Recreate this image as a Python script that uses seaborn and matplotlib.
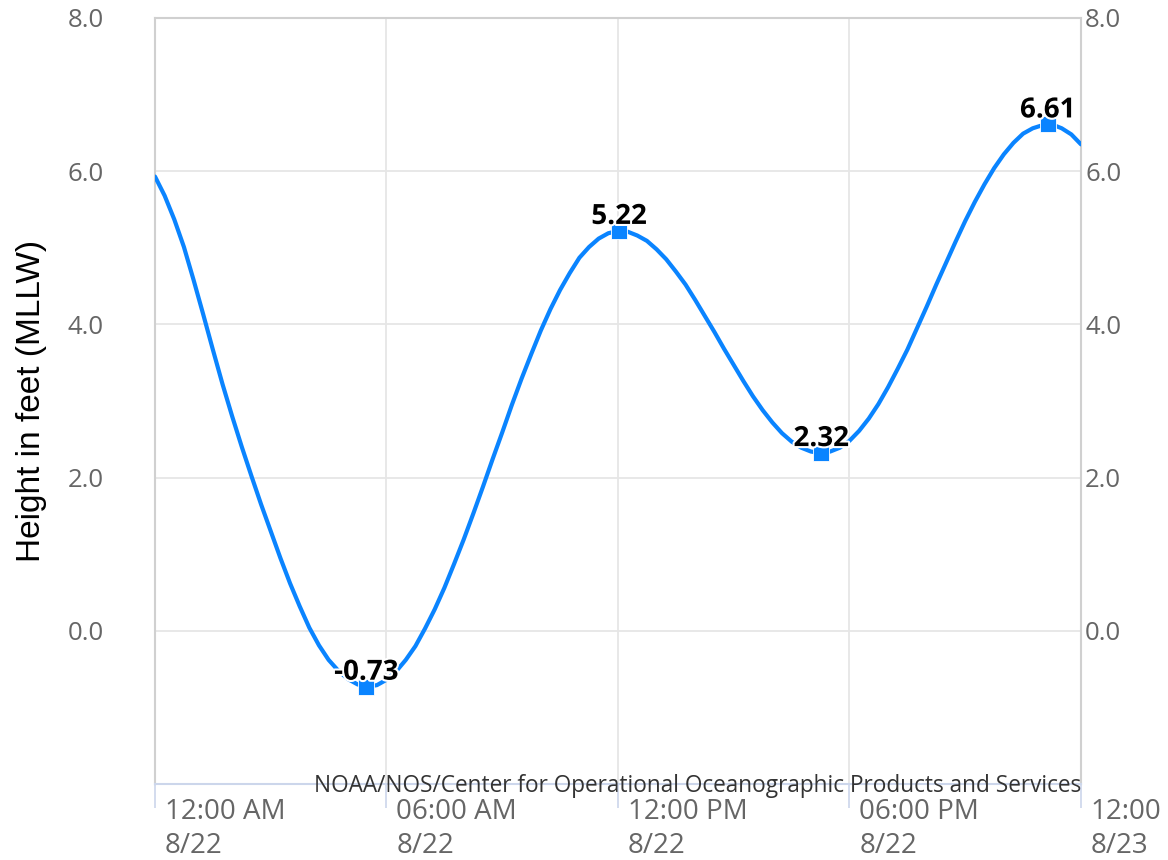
import numpy as np
import pandas as pd
import matplotlib.pyplot as plt
import matplotlib.patheffects as pe
import seaborn as sns

sns.set_theme(style="white")
plt.rcParams['font.family'] = ['Open Sans', 'DejaVu Sans']

# predicted tide every 15 minutes from 12:00 AM 8/22 (hours since midnight)
hours = np.arange(0, 24.25, 0.25)
height = [5.93, 5.68, 5.37, 5.01, 4.58, 4.13, 3.67, 3.22, 2.80, 2.40,
          2.02, 1.65, 1.30, 0.95, 0.62, 0.32, 0.04, -0.19, -0.38, -0.52,
          -0.63, -0.70, -0.73, -0.71, -0.64, -0.53, -0.38, -0.20, 0.03, 0.28,
          0.56, 0.87, 1.19, 1.53, 1.88, 2.24, 2.59, 2.95, 3.29, 3.61,
          3.92, 4.20, 4.45, 4.67, 4.87, 5.01, 5.12, 5.19, 5.22, 5.21,
          5.16, 5.09, 4.98, 4.85, 4.69, 4.52, 4.32, 4.11, 3.90, 3.68,
          3.47, 3.26, 3.06, 2.88, 2.72, 2.58, 2.47, 2.39, 2.34, 2.32,
          2.34, 2.39, 2.48, 2.61, 2.77, 2.96, 3.18, 3.42, 3.67, 3.95,
          4.23, 4.52, 4.80, 5.08, 5.35, 5.60, 5.83, 6.04, 6.22, 6.37,
          6.49, 6.56, 6.60, 6.61, 6.56, 6.48, 6.35]

# high / low tides
hilo_hours = [5.48, 12.03, 17.27, 23.14]
hilo_height = [-0.73, 5.22, 2.32, 6.61]

x_ticks = [0, 6, 12, 18, 24]
x_labels = ['12:00 AM\n8/22', '06:00 AM\n8/22', '12:00 PM\n8/22',
            '06:00 PM\n8/22', '12:00\n8/23']
y_ticks = [0.0, 2.0, 4.0, 6.0, 8.0]

blue = '#0a84ff'
gray_txt = '#666666'

tide = pd.DataFrame({'hour': hours, 'height': height})

fig = plt.figure(figsize=(11.68, 8.6), dpi=100)
ax = fig.add_axes([0.1327, 0.0884, 0.7928, 0.8907])

sns.lineplot(data=tide, x='hour', y='height', color=blue, linewidth=3,
             ax=ax, zorder=3)
sns.scatterplot(x=hilo_hours, y=hilo_height, marker='s', s=130, color=blue,
                edgecolor='white', linewidth=0.6, ax=ax, zorder=4)

for h, v in zip(hilo_hours, hilo_height):
    ax.annotate(f'{v:.2f}', (h, v), xytext=(0, 0), textcoords='offset points',
                ha='center', va='bottom', fontsize=20, fontweight='bold',
                color='black', zorder=5,
                path_effects=[pe.withStroke(linewidth=3, foreground='white')])

ax.set_xlim(0, 24)
ax.set_ylim(-2, 8)
ax.set_xlabel('')
ax.set_ylabel('Height in feet (MLLW)', fontsize=24, color='black',
              family=['Liberation Sans', 'DejaVu Sans'])
ax.yaxis.set_label_coords(-0.1166, 0.5)

ax.set_yticks(y_ticks)
ax.set_yticklabels([f'{t:.1f}' for t in y_ticks])
ax.set_xticks(x_ticks)
ax.set_xticklabels([])
for t, lab in zip(x_ticks, x_labels):
    ax.annotate(lab, (t, 0), xycoords=('data', 'axes fraction'),
                xytext=(7, -10), textcoords='offset points', ha='left', va='top',
                fontsize=20, color=gray_txt, linespacing=1.3,
                annotation_clip=False)

ax.grid(True, color='#e6e6e6', linewidth=1.3)
ax.tick_params(axis='x', bottom=True, length=17, width=1.2, color='#ccd6eb')
ax.tick_params(axis='y', left=False, right=False, length=0, pad=37,
               labelsize=18.5, labelcolor=gray_txt)

for side in ['left', 'right', 'top']:
    ax.spines[side].set_color('#d0d0d0')
    ax.spines[side].set_linewidth(1.5)
ax.spines['bottom'].set_color('#ccd6eb')
ax.spines['bottom'].set_linewidth(1.5)

# right axis repeats the scale
ax2 = ax.twinx()
ax2.set_ylim(ax.get_ylim())
ax2.set_yticks(y_ticks)
ax2.set_yticklabels([f'{t:.1f}' for t in y_ticks])
ax2.tick_params(axis='y', left=False, right=False, length=0, pad=3,
                labelsize=18.5, labelcolor=gray_txt)
ax2.grid(False)
for s in ax2.spines.values():
    s.set_visible(False)

ax.annotate('NOAA/NOS/Center for Operational Oceanographic Products and Services',
            (1.0, 0.0), xycoords='axes fraction', xytext=(0, -6),
            textcoords='offset points', ha='right', va='baseline',
            fontsize=16.3, color='#333333', zorder=6)

fig.savefig('out.png', dpi=100)
